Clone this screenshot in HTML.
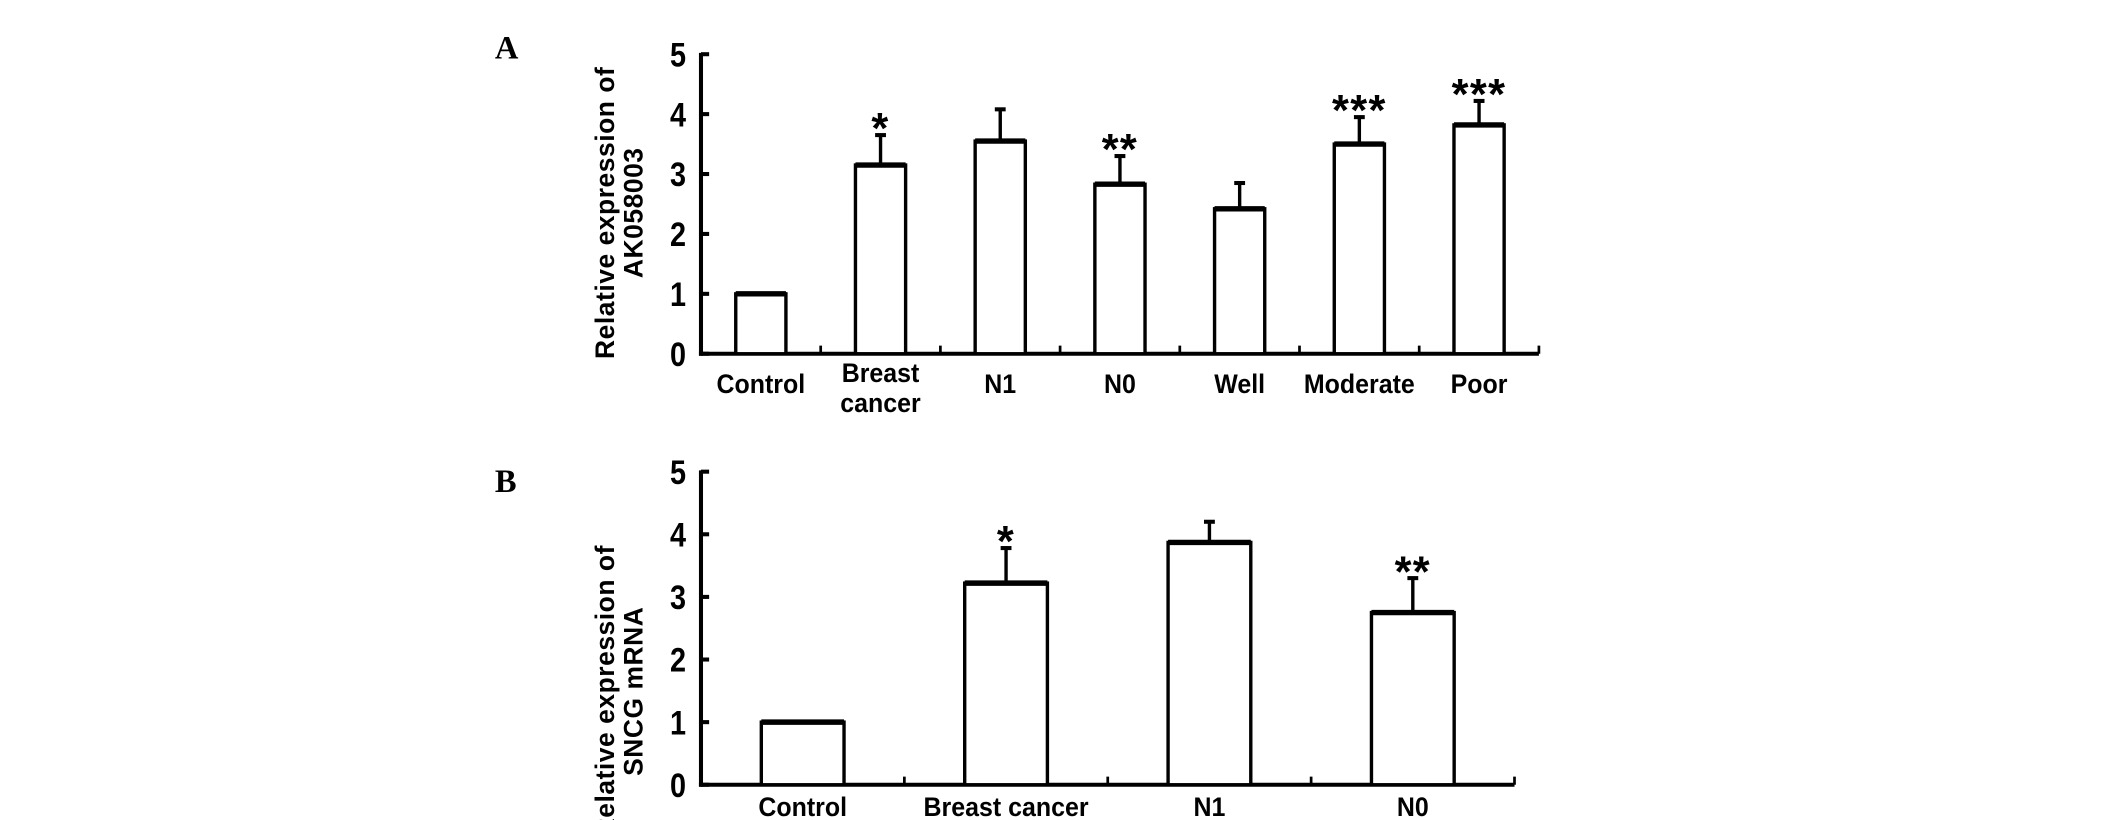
<!DOCTYPE html>
<html><head><meta charset="utf-8"><style>
html,body{margin:0;padding:0;background:#fff;}
svg{display:block;}
text{font-family:"Liberation Sans",Arial,sans-serif;font-weight:bold;fill:#000;}
</style></head><body>
<svg id="chart" width="2126" height="820" viewBox="0 0 1568 605" preserveAspectRatio="none">
<text x="365" y="43" style="font-family:'Liberation Serif',serif;font-size:24px">A</text>
<text x="365" y="363" style="font-family:'Liberation Serif',serif;font-size:24px">B</text>
<g id="pa"></g>
<g id="pb"></g>
</svg>
<script>
const catsA = ["Control", "Breast\ncancer", "N1", "N0", "Well", "Moderate", "Poor"];
const valsA = [1.0, 3.15, 3.55, 2.83, 2.42, 3.5, 3.82];
const errA = [0, 0.5, 0.53, 0.47, 0.43, 0.45, 0.4];
const starsA = ["", "*", "", "**", "", "***", "***"];
const catsB = ["Control", "Breast cancer", "N1", "N0"];
const valsB = [1.0, 3.22, 3.87, 2.75];
const errB = [0, 0.56, 0.33, 0.55];
const starsB = ["", "*", "", "**"];
const yTicks = [0, 1, 2, 3, 4, 5];

const NS = "http://www.w3.org/2000/svg";
function mk(parent, tag, attrs, txt){
  const e = document.createElementNS(NS, tag);
  for (const k in attrs) e.setAttribute(k, attrs[k]);
  if (txt !== undefined) e.textContent = txt;
  parent.appendChild(e);
  return e;
}
function panel(g, cats, vals, errs, stars, cfg){
  const y = v => cfg.y0 - (v / 5) * (cfg.y0 - cfg.y5);
  const step = (cfg.x1 - cfg.x0) / cats.length;
  const cx = i => cfg.x0 + step * (i + 0.5);
  let a = mk(g, "line", {x1: cfg.x0, y1: cfg.y5 - 1, x2: cfg.x0, y2: cfg.y0 + 1.5, stroke: "#000", "stroke-width": 3});
  
  
  a = mk(g, "line", {x1: cfg.x0 - 1.5, y1: cfg.y0, x2: cfg.x1, y2: cfg.y0, stroke: "#000", "stroke-width": 3});
  
  
  yTicks.forEach(t => {
    const tk = mk(g, "line", {x1: cfg.x0, y1: y(t), x2: cfg.x0 + 6, y2: y(t), stroke: "#000", "stroke-width": 3});
    
    
    const tl = mk(g, "text", {x: cfg.x0 - 11, y: y(t) + 9, "text-anchor": "end", "font-size": 25, transform: `translate(${cfg.x0 - 11},0) scale(0.85,1) translate(${-(cfg.x0 - 11)},0)`}, String(t));
    
    
  });
  for (let i = 1; i <= cats.length; i++){
    const xt = cfg.x0 + step * i;
    const tk = mk(g, "line", {x1: xt, y1: cfg.y0, x2: xt, y2: cfg.y0 - 6, stroke: "#000", "stroke-width": 2});
    
    
  }
  cats.forEach((c, i) => {
    const x = cx(i), bw = cfg.bw;
    const bar = mk(g, "rect", {x: x - bw / 2, y: y(vals[i]), width: bw, height: cfg.y0 - y(vals[i]), fill: "#fff", stroke: "#000", "stroke-width": 2.5});
    
    
    const top = mk(g, "line", {x1: x - bw / 2, y1: y(vals[i]), x2: x + bw / 2, y2: y(vals[i]), stroke: "#000", "stroke-width": 4});
    
    
    if (errs[i] > 0){
      const eT = y(vals[i] + errs[i]);
      const el = mk(g, "line", {x1: x, y1: y(vals[i]), x2: x, y2: eT, stroke: "#000", "stroke-width": 2.5});
      
      
      const cap = mk(g, "line", {x1: x - 4, y1: eT, x2: x + 4, y2: eT, stroke: "#000", "stroke-width": 3});
      
      
    }
    if (stars[i]){
      const st = mk(g, "text", {x: x, y: y(vals[i] + errs[i]) + 6, "text-anchor": "middle", "font-size": 32, "letter-spacing": "1"}, stars[i]);
      
      
    }
    const lines = c.split("\n");
    lines.forEach((ln, j) => {
      const yy = lines.length > 1 ? cfg.labY - 8 + j * 22 : cfg.labY;
      const t = mk(g, "text", {x: x, y: yy, "text-anchor": "middle", "font-size": 20, transform: `translate(${x},0) scale(0.92,1) translate(${-x},0)`}, ln);
      
      
    });
  });
  const tt = mk(g, "text", {transform: `translate(${cfg.tx},${cfg.ty}) rotate(-90)`, "text-anchor": "middle", "font-size": 19.5, "letter-spacing": "0.4"});
  
  
  cfg.title.forEach((s, j) => mk(tt, "tspan", {x: 0, dy: j === 0 ? 0 : 21}, s));
}
panel(document.getElementById("pa"), catsA, valsA, errA, starsA,
  {x0: 517, x1: 1135, y0: 261, y5: 40, bw: 37, labY: 290, tx: 453, ty: 157, title: ["Relative expression of", "AK058003"]});
panel(document.getElementById("pb"), catsB, valsB, errB, starsB,
  {x0: 517, x1: 1117, y0: 579, y5: 348, bw: 61, labY: 602, tx: 453, ty: 510, title: ["Relative expression of", "SNCG mRNA"]});
</script>
</body></html>
